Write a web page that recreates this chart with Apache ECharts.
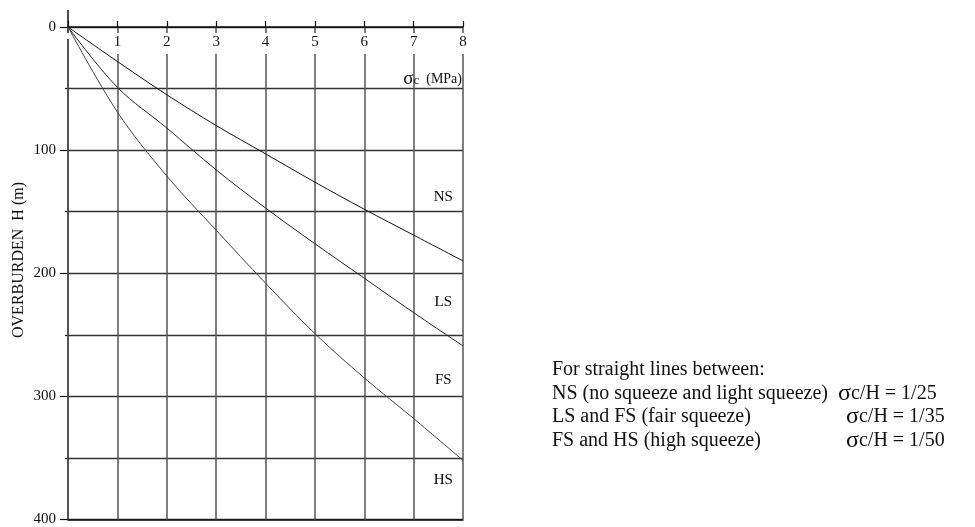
<!DOCTYPE html>
<html>
<head>
<meta charset="utf-8">
<script src="https://cdn.jsdelivr.net/npm/echarts@6/dist/echarts.min.js"></script>
<style>
  html, body { margin: 0; padding: 0; background: #fff; }
  #chart { width: 975px; height: 527px; }
</style>
</head>
<body>
<div id="chart"></div>
<script>
// Uniaxial compressive strength (MPa) against overburden depth (m)
const sigmaC = [0, 1, 2, 3, 4, 5, 6, 7, 8];
const boundaryNS = [0, 28, 55, 80, 103, 126, 148, 169, 190];
const boundaryLS = [0, 49, 82, 116, 147, 176, 204, 232, 259];
const boundaryFS = [0, 69, 121, 165, 208, 249, 285, 318, 352];

// Zone names and where they sit (sigma, H)
const zoneNames = ['NS', 'LS', 'FS', 'HS'];
const zoneSigma = [7.6, 7.6, 7.6, 7.6];
const zoneDepth = [138, 223, 287, 368];

const noteLines = [
  'For straight lines between:',
  'NS (no squeeze and light squeeze)',
  'LS and FS (fair squeeze)',
  'FS and HS (high squeeze)'
];
const ratioLabels = ['1/25', '1/35', '1/50'];

const FONT = '"Liberation Serif", "Times New Roman", serif';
const INK = '#111';
const NOTE_SIZE = 20;

const pairs = (ys) => sigmaC.map((x, i) => [x, ys[i]]);

function curve(name, ys, color) {
  return {
    name, type: 'line', data: pairs(ys), smooth: 0.35,
    showSymbol: false, silent: true, z: 5,
    lineStyle: { color, width: 1 }
  };
}

function textWidth(str, size) {
  const ctx = document.createElement('canvas').getContext('2d');
  ctx.font = size + 'px ' + FONT;
  return ctx.measureText(str).width;
}

const chart = echarts.init(document.getElementById('chart'), null, { renderer: 'canvas' });

const graphics = [
  // axis continues slightly above the origin
  { type: 'line', shape: { x1: 68, y1: 10, x2: 68, y2: 27 }, style: { stroke: INK, lineWidth: 1.5 }, z: 10 },
  // sigma-c (MPa) unit label
  {
    type: 'text', x: 462, y: 79, z: 10,
    style: {
      text: '{s|σ}{c|c}{u|  (MPa)}',
      align: 'right', verticalAlign: 'middle',
      rich: {
        s: { fontFamily: FONT, fontSize: 19, fill: INK },
        c: { fontFamily: FONT, fontSize: 13, fill: INK, padding: [4, 0, 0, 0] },
        u: { fontFamily: FONT, fontSize: 14, fill: INK }
      }
    }
  },
  // rotated axis title
  {
    type: 'text', x: 19, y: 260, rotation: Math.PI / 2, z: 10,
    style: {
      text: 'OVERBURDEN  H (m)', align: 'center', verticalAlign: 'middle',
      fontFamily: FONT, fontSize: 16, fill: INK
    }
  }
];

const noteX = 552;
const noteY = [370, 393.5, 417, 440.5];
noteLines.forEach((t, i) => {
  graphics.push({
    type: 'text', x: noteX, y: noteY[i], z: 10,
    style: { text: t, verticalAlign: 'middle', fontFamily: FONT, fontSize: NOTE_SIZE, fill: INK }
  });
});
const ratioStart = noteX + textWidth(noteLines[1], NOTE_SIZE) + 10;
const ratioX = [ratioStart, ratioStart + 8, ratioStart + 8];
ratioLabels.forEach((r, i) => {
  graphics.push({
    type: 'text', x: ratioX[i], y: noteY[i + 1], z: 10,
    style: {
      text: '{s|σ}{t|c/H = ' + r + '}', verticalAlign: 'middle',
      rich: {
        s: { fontFamily: FONT, fontSize: NOTE_SIZE + 4, fill: INK },
        t: { fontFamily: FONT, fontSize: NOTE_SIZE, fill: INK }
      }
    }
  });
});

chart.setOption({
  animation: false,
  backgroundColor: '#fff',
  grid: { left: 68, right: 512, top: 27, bottom: 4, containLabel: false },
  xAxis: [
    {
      type: 'value', position: 'top', min: 0, max: 8, interval: 1,
      axisLine: { show: true, onZero: false, lineStyle: { color: INK, width: 1.5 } },
      axisTick: { show: true, length: 6, lineStyle: { color: INK, width: 1.2 } },
      axisLabel: {
        inside: true, margin: 6, fontFamily: FONT, fontSize: 15, color: INK,
        backgroundColor: '#fff', padding: [2, 2, 4, 2],
        formatter: (v) => (v === 0 ? '' : String(v))
      },
      splitLine: { show: true, lineStyle: { color: '#555', width: 1.5 } },
      z: 3
    },
    {
      type: 'value', position: 'bottom', min: 0, max: 8, interval: 1,
      axisLine: { show: true, onZero: false, lineStyle: { color: INK, width: 1.5 } },
      axisTick: { show: false }, axisLabel: { show: false }, splitLine: { show: false }
    }
  ],
  yAxis: {
    type: 'value', inverse: true, min: 0, max: 400, interval: 100,
    axisLine: { show: true, onZero: false, lineStyle: { color: INK, width: 1.5 } },
    axisTick: { show: true, length: 8, lineStyle: { color: INK, width: 1.2 } },
    minorTick: { show: true, splitNumber: 2, length: 3, lineStyle: { color: INK, width: 1.2 } },
    axisLabel: { margin: 12, fontFamily: FONT, fontSize: 15, color: INK },
    splitLine: { show: true, lineStyle: { color: '#333', width: 1.3 } },
    minorSplitLine: { show: true, lineStyle: { color: '#333', width: 1.3 } }
  },
  series: [
    curve('NS', boundaryNS, '#111'),
    curve('LS', boundaryLS, '#222'),
    curve('FS', boundaryFS, '#444'),
    {
      type: 'scatter', silent: true, symbolSize: 1, z: 6,
      itemStyle: { opacity: 0 },
      data: zoneNames.map((n, i) => ({ value: [zoneSigma[i], zoneDepth[i]], name: n })),
      label: {
        show: true, position: 'inside', formatter: (p) => p.name,
        fontFamily: FONT, fontSize: 15, color: '#000', opacity: 1
      }
    }
  ],
  graphic: graphics
});
</script>
</body>
</html>
